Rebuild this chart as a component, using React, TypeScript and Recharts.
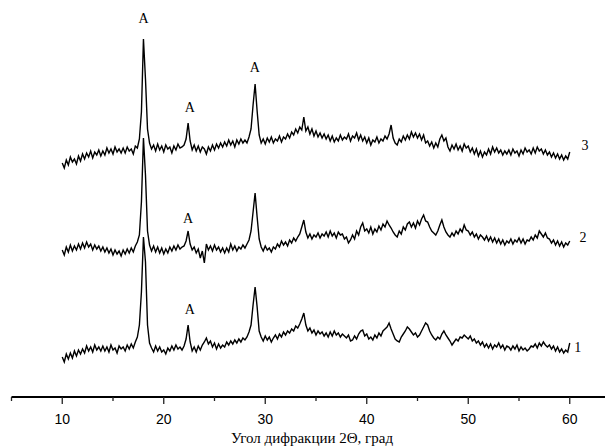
import React from 'react';
import { LineChart, Line, XAxis, YAxis, ReferenceDot } from 'recharts';

// diffraction angle grid, degrees 2θ
const angleStart = 10;
const angleStep = 0.2;

// intensity, arbitrary units (curves already shifted apart as in the figure)
const sample1 = [
  40, 35, 43, 38, 44, 39, 46, 41, 47, 43,
  48, 44, 51, 46, 50, 45, 52, 47, 50, 46,
  51, 46, 50, 45, 52, 47, 49, 44, 51, 48,
  50, 46, 52, 48, 53, 49, 55, 60, 72, 105,
  160, 135, 72, 54, 49, 45, 51, 46, 50, 45,
  47, 43, 49, 46, 51, 47, 52, 48, 50, 47,
  51, 58, 72, 55, 46, 50, 45, 51, 47, 52,
  55, 59, 53, 56, 50, 54, 48, 53, 49, 52,
  50, 55, 52, 56, 53, 57, 54, 58, 55, 59,
  57, 60, 65, 72, 92, 110, 90, 66, 60, 56,
  61, 57, 60, 55, 59, 62, 58, 63, 60, 65,
  62, 66, 64, 68, 66, 71, 69, 73, 78, 84,
  72, 66, 69, 64, 67, 62, 66, 63, 65, 61,
  64, 60, 65, 61, 66, 62, 64, 60, 63, 61,
  59, 62, 56, 57, 61, 58, 63, 66, 67, 61,
  63, 58, 60, 57, 62, 59, 64, 61, 66, 68,
  70, 74, 68, 63, 58, 56, 55, 60, 63, 66,
  70, 68, 65, 62, 64, 60, 62, 66, 70, 74,
  72, 66, 62, 59, 57, 60, 58, 63, 66, 62,
  59, 56, 52, 55, 58, 56, 60, 59, 62, 60,
  58, 61, 56, 58, 54, 56, 52, 55, 50, 53,
  49, 53, 48, 52, 50, 54, 49, 52, 47, 51,
  50, 47, 51, 48, 52, 46, 50, 47, 49, 46,
  48, 51, 50, 53, 49, 54, 51, 55, 52, 50,
  52, 48, 51, 46, 50, 45, 48, 44, 47, 45,
  54,
];

const sample2 = [
  147, 142, 150, 145, 152, 146, 151, 147, 153, 148,
  154, 149, 155, 150, 153, 147, 152, 148, 151, 146,
  150, 145, 149, 144, 148, 142, 147, 143, 146, 141,
  147, 143, 148, 144, 149, 145, 151, 155, 162, 195,
  259, 222, 166, 152, 146, 151, 145, 150, 144, 149,
  143, 148, 144, 150, 146, 151, 147, 152, 148, 150,
  151, 156, 166, 153, 147, 150, 144, 148, 139, 146,
  134, 153, 147, 151, 146, 152, 147, 150, 145, 149,
  144, 149, 145, 153, 147, 151, 146, 150, 148, 152,
  149, 153, 157, 166, 185, 204, 180, 158, 150, 146,
  151, 147, 149, 145, 150, 148, 153, 150, 156, 152,
  155, 151, 157, 154, 159, 156, 160, 163, 170, 177,
  165, 159, 163, 158, 162, 160, 164, 159, 163, 161,
  165, 160, 166, 161, 164, 159, 165, 162, 163, 158,
  160, 154, 157, 162, 158, 166, 162, 170, 174, 166,
  168, 164, 170, 163, 168, 165, 171, 167, 173, 170,
  176, 172, 169, 165, 162, 160, 166, 163, 170, 167,
  173, 175, 170, 174, 169, 176, 172, 178, 182, 176,
  175, 170, 166, 164, 162, 166, 172, 177, 170, 165,
  162, 160, 164, 161, 166, 163, 168, 165, 172, 167,
  166, 162, 165, 160, 163, 158, 162, 160, 157, 161,
  156, 160, 155, 159, 154, 158, 153, 157, 152, 156,
  154, 158, 153, 157, 155, 159, 154, 158, 153, 157,
  156, 160, 157, 162, 159, 166, 163, 160, 164, 159,
  158, 154, 157, 152, 156, 151, 155, 150, 154, 152,
  156,
];

const sample3 = [
  234, 229, 237, 232, 240, 235, 238, 233, 241, 236,
  243, 238, 244, 240, 246, 239, 245, 242, 247, 241,
  246, 242, 249, 244, 248, 243, 250, 245, 248, 244,
  249, 244, 250, 246, 248, 243, 251, 249, 258, 285,
  358, 318, 268, 254, 248, 252, 246, 253, 247, 251,
  245, 252, 248, 250, 244, 251, 247, 253, 249, 250,
  252, 258, 274, 256, 247, 252, 246, 251, 245, 250,
  248, 243, 250, 246, 252, 247, 253, 249, 254, 250,
  255, 251, 257, 252, 256, 250, 257, 253, 258, 254,
  257, 254, 260, 268, 292, 313, 286, 262, 254, 258,
  253, 259, 255, 260, 254, 258, 256, 261, 255, 260,
  258, 263, 259, 265, 262, 268, 264, 270, 267, 280,
  266, 270, 263, 268, 261, 266, 260, 264, 259, 263,
  258, 262, 256, 261, 255, 259, 256, 262, 257, 260,
  258, 263, 256, 261, 259, 264, 257, 262, 256, 260,
  254, 259, 252, 257, 255, 260, 254, 258, 256, 261,
  258, 263, 272, 259, 254, 252, 258, 255, 261, 257,
  262, 258, 265, 260, 264, 259, 263, 257, 262, 254,
  256, 251, 255, 249, 254, 250, 258, 262, 256, 259,
  250, 246, 252, 248, 253, 247, 251, 246, 253, 249,
  251, 245, 249, 243, 248, 241, 246, 240, 245, 242,
  248, 243, 250, 245, 249, 244, 247, 242, 246, 243,
  247, 242, 248, 244, 246, 241, 247, 243, 249, 245,
  247, 243, 249, 244, 250, 246, 248, 243, 247, 242,
  245, 240, 244, 239, 243, 238, 242, 237, 241, 238,
  245,
];

const xTicks = [5, 10, 15, 20, 25, 30, 35, 40, 45, 50, 55, 60, 65];

// "A" marks over the peaks
const peakMarkAngles = [18.0, 22.56, 28.97, 22.39, 22.56];
const peakMarkValues = [379, 290, 330, 179, 88];
const peakMarkText = 'A';

// curve numbers at the right end
const curveNameAngles = [61.5, 61.3, 60.8];
const curveNameValues = [252, 160, 50];
const curveNames = ['3', '2', '1'];

const xTitle = 'Угол дифракции 2Θ, град';

const chartData = sample1.map((v, i) => ({
  angle: Math.round((angleStart + i * angleStep) * 10) / 10,
  s1: v,
  s2: sample2[i],
  s3: sample3[i],
}));

const serif = '"Liberation Serif", "Times New Roman", serif';
const sans = '"Liberation Sans", Arial, sans-serif';

const AxisTick = (props: any) => {
  const { x, y, payload } = props;
  const major = payload.value % 10 === 0;
  return (
    <g>
      <line x1={x} y1={y} x2={x} y2={y + (major ? 7 : 4)} stroke="#222" strokeWidth={1.3} />
      {major && (
        <text x={x} y={y + 27} textAnchor="middle" fontFamily={sans} fontSize={14} fill="#000">
          {payload.value}
        </text>
      )}
    </g>
  );
};

const App: React.FC = () => {
  return (
    <div style={{ position: 'absolute', left: 0, top: 0, width: 605, height: 446, overflow: 'hidden', background: '#fff' }}>
      <LineChart width={621} height={446} data={chartData} margin={{ top: 0, right: 0.5, left: 11.5, bottom: 0 }}>
        <XAxis
          dataKey="angle"
          type="number"
          domain={[5, 65]}
          allowDataOverflow
          ticks={xTicks}
          interval={0}
          height={49}
          tickSize={0}
          tickMargin={0}
          tickLine={false}
          tick={<AxisTick />}
          axisLine={{ stroke: '#000', strokeWidth: 2 }}
          label={{ value: xTitle, position: 'insideBottom', offset: 3, dx: -4, fill: '#000', fontFamily: serif, fontSize: 15 }}
        />
        <YAxis hide type="number" domain={[0, 397]} allowDataOverflow />
        <Line dataKey="s1" type="linear" stroke="#000" strokeWidth={1.4} dot={false} isAnimationActive={false} />
        <Line dataKey="s2" type="linear" stroke="#000" strokeWidth={1.4} dot={false} isAnimationActive={false} />
        <Line dataKey="s3" type="linear" stroke="#000" strokeWidth={1.4} dot={false} isAnimationActive={false} />
        {peakMarkAngles.map((a, i) => (
          <ReferenceDot
            key={'pk' + i}
            x={a}
            y={peakMarkValues[i]}
            r={0}
            ifOverflow="visible"
            label={{ value: peakMarkText, position: 'center', fill: '#000', fontFamily: serif, fontSize: 14 }}
          />
        ))}
        {curveNameAngles.map((a, i) => (
          <ReferenceDot
            key={'cn' + i}
            x={a}
            y={curveNameValues[i]}
            r={0}
            ifOverflow="visible"
            label={{ value: curveNames[i], position: 'center', fill: '#000', fontFamily: serif, fontSize: 14 }}
          />
        ))}
      </LineChart>
    </div>
  );
};

export default App;
